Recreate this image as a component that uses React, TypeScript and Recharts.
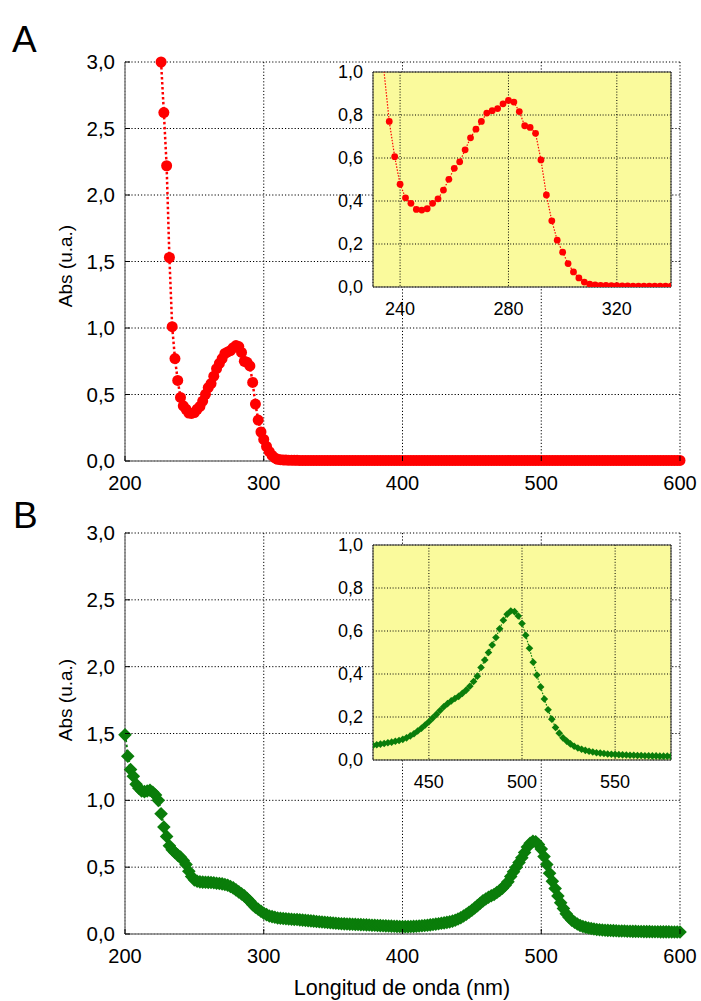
import React from 'react';
import { LineChart, Line, XAxis, YAxis, CartesianGrid, ReferenceArea } from 'recharts';

const FONT = '"Liberation Sans", Arial, Helvetica, sans-serif';

// Panel A: absorbance, one point every 2 nm starting at 226 nm
const startA = 226;
const absA = [
  3.0, 2.62, 2.22, 1.53, 1.01, 0.77, 0.606, 0.478, 0.415, 0.389,
  0.361, 0.358, 0.364, 0.389, 0.41, 0.451, 0.501, 0.552, 0.582, 0.638,
  0.694, 0.734, 0.77, 0.809, 0.82, 0.83, 0.852, 0.868, 0.86, 0.816,
  0.75, 0.742, 0.715, 0.591, 0.428, 0.308, 0.218, 0.162, 0.109, 0.07,
  0.042, 0.023, 0.013, 0.01, 0.008, 0.007, 0.006, 0.006, 0.005, 0.005,
  0.004, 0.004, 0.004, 0.004, 0.004, 0.004, 0.004, 0.004, 0.004, 0.004,
  0.004, 0.004, 0.004, 0.004, 0.004, 0.004, 0.004, 0.004, 0.004, 0.004,
  0.004, 0.004, 0.004, 0.004, 0.004, 0.004, 0.004, 0.004, 0.004, 0.004,
  0.004, 0.004, 0.004, 0.004, 0.004, 0.004, 0.004, 0.004, 0.004, 0.004,
  0.004, 0.004, 0.004, 0.004, 0.004, 0.004, 0.004, 0.004, 0.004, 0.004,
  0.004, 0.004, 0.004, 0.004, 0.004, 0.004, 0.004, 0.004, 0.004, 0.004,
  0.004, 0.004, 0.004, 0.004, 0.004, 0.004, 0.004, 0.004, 0.004, 0.004,
  0.004, 0.004, 0.004, 0.004, 0.004, 0.004, 0.004, 0.004, 0.004, 0.004,
  0.004, 0.004, 0.004, 0.004, 0.004, 0.004, 0.004, 0.004, 0.004, 0.004,
  0.004, 0.004, 0.004, 0.004, 0.004, 0.004, 0.004, 0.004, 0.004, 0.004,
  0.004, 0.004, 0.004, 0.004, 0.004, 0.004, 0.004, 0.004, 0.004, 0.004,
  0.004, 0.004, 0.004, 0.004, 0.004, 0.004, 0.004, 0.004, 0.004, 0.004,
  0.004, 0.004, 0.004, 0.004, 0.004, 0.004, 0.004, 0.004, 0.004, 0.004,
  0.004, 0.004, 0.004, 0.004, 0.004, 0.004, 0.004, 0.004,
];

// Panel B: absorbance, one point every 2 nm starting at 200 nm
const startB = 200;
const absB = [
  1.49, 1.33, 1.23, 1.18, 1.12, 1.09, 1.07, 1.065, 1.07, 1.075,
  1.06, 1.04, 1.0, 0.9, 0.8, 0.73, 0.66, 0.63, 0.61, 0.59,
  0.575, 0.55, 0.52, 0.47, 0.43, 0.405, 0.395, 0.39, 0.388, 0.387,
  0.386, 0.385, 0.383, 0.38, 0.378, 0.375, 0.37, 0.365, 0.355, 0.345,
  0.33, 0.315, 0.3, 0.285, 0.265, 0.245, 0.22, 0.2, 0.185, 0.17,
  0.155, 0.145, 0.135, 0.13, 0.125, 0.12, 0.118, 0.116, 0.114, 0.112,
  0.11, 0.109, 0.108, 0.106, 0.104, 0.102, 0.1, 0.098, 0.096, 0.094,
  0.092, 0.09, 0.088, 0.086, 0.084, 0.082, 0.08, 0.078, 0.077, 0.076,
  0.075, 0.074, 0.073, 0.072, 0.071, 0.07, 0.069, 0.068, 0.067, 0.066,
  0.065, 0.064, 0.063, 0.062, 0.061, 0.06, 0.059, 0.058, 0.057, 0.056,
  0.055, 0.055, 0.055, 0.056, 0.057, 0.058, 0.06, 0.062, 0.064, 0.066,
  0.068, 0.071, 0.074, 0.077, 0.08, 0.083, 0.087, 0.091, 0.096, 0.103,
  0.112, 0.122, 0.135, 0.148, 0.163, 0.178, 0.195, 0.212, 0.23, 0.248,
  0.262, 0.275, 0.286, 0.296, 0.31, 0.325, 0.343, 0.365, 0.39, 0.43,
  0.465, 0.5, 0.535, 0.57, 0.61, 0.65, 0.678, 0.693, 0.69, 0.67,
  0.635, 0.58, 0.52, 0.455, 0.395, 0.34, 0.284, 0.234, 0.19, 0.151,
  0.125, 0.103, 0.088, 0.075, 0.064, 0.056, 0.05, 0.045, 0.041, 0.037,
  0.034, 0.032, 0.03, 0.028, 0.027, 0.026, 0.025, 0.024, 0.023, 0.022,
  0.022, 0.021, 0.021, 0.02, 0.02, 0.019, 0.019, 0.018, 0.018, 0.018,
  0.017, 0.017, 0.017, 0.016, 0.016, 0.016, 0.016, 0.015, 0.015, 0.015,
  0.015,
];

const mainXTicks = [200, 300, 400, 500, 600];
const mainYTicks = [0, 0.5, 1, 1.5, 2, 2.5, 3];
const insetYTicks = [0, 0.2, 0.4, 0.6, 0.8, 1];
const insetXTicksA = [240, 280, 320];
const insetXTicksB = [450, 500, 550];

const dataA = absA.map((abs, i) => ({ wl: startA + 2 * i, abs }));
const dataB = absB.map((abs, i) => ({ wl: startB + 2 * i, abs }));

const RED = '#ff0000';
const GREEN = '#0a7d0a';
const YELLOW = '#fafa9c';

const fmt = (v: number) => v.toFixed(1).replace('.', ',');

// page-wide plot columns
const PLOT_L = 125;
const PLOT_R = 680;
const INSET_L = 373;
const INSET_R = 671;

const circleDot = (r: number, color: string, maxY = Infinity) => (p: any) => {
  if (p.cx == null || p.payload.abs > maxY) return <g key={p.index} />;
  return <circle key={p.index} cx={p.cx} cy={p.cy} r={r} fill={color} />;
};

const diamondDot = (h: number, color: string) => (p: any) => {
  if (p.cx == null) return <g key={p.index} />;
  const { cx, cy } = p;
  return (
    <path
      key={p.index}
      d={`M${cx},${cy - h}L${cx + h},${cy}L${cx},${cy + h}L${cx - h},${cy}Z`}
      fill={color}
    />
  );
};

interface MainProps {
  data: { wl: number; abs: number }[];
  top: number;
  plotTop: number;
  plotBottom: number;
  height: number;
  color: string;
  dot: any;
}

function MainPanel({ data, top, plotTop, plotBottom, height, color, dot }: MainProps) {
  const pt = plotTop - top;
  const pb = plotBottom - top;
  const bottomTick = (p: any) => (
    <g>
      <line x1={p.x} x2={p.x} y1={pb} y2={pb - 5} stroke="#000" />
      <text x={p.x} y={pb + 28.5} textAnchor="middle" fontSize={20} fontFamily={FONT} fill="#000">
        {p.payload.value}
      </text>
    </g>
  );
  const leftTick = (p: any) => (
    <g>
      <line x1={PLOT_L} x2={PLOT_L + 5} y1={p.y} y2={p.y} stroke="#000" />
      <text x={PLOT_L - 10} y={p.y + 7} textAnchor="end" fontSize={20.5} fontFamily={FONT} fill="#000">
        {fmt(p.payload.value)}
      </text>
    </g>
  );
  const topTick = (p: any) => <line x1={p.x} x2={p.x} y1={pt} y2={pt + 5} stroke="#000" />;
  const rightTick = (p: any) => <line x1={PLOT_R} x2={PLOT_R - 5} y1={p.y} y2={p.y} stroke="#000" />;

  return (
    <div style={{ position: 'absolute', left: 0, top }}>
      <LineChart width={701} height={height} data={data} margin={{ top: pt, right: 701 - PLOT_R, bottom: 0, left: 0 }}>
        <CartesianGrid stroke="#000" strokeDasharray="1.2 2" />
        <XAxis
          type="number"
          dataKey="wl"
          domain={[200, 600]}
          ticks={mainXTicks}
          interval={0}
          height={height - pb}
          tickSize={0}
          tickLine={false}
          axisLine={{ stroke: '#808080', strokeWidth: 1.5 }}
          tick={bottomTick}
        />
        <XAxis
          xAxisId="top"
          orientation="top"
          type="number"
          domain={[200, 600]}
          ticks={mainXTicks}
          interval={0}
          height={0}
          tickSize={0}
          tickLine={false}
          axisLine={{ stroke: '#000' }}
          tick={topTick}
        />
        <YAxis
          type="number"
          domain={[0, 3]}
          ticks={mainYTicks}
          interval={0}
          width={PLOT_L}
          tickSize={0}
          tickLine={false}
          axisLine={{ stroke: '#808080', strokeWidth: 1.5 }}
          tick={leftTick}
        />
        <YAxis
          yAxisId="right"
          orientation="right"
          type="number"
          domain={[0, 3]}
          ticks={mainYTicks}
          interval={0}
          width={0}
          tickSize={0}
          tickLine={false}
          axisLine={{ stroke: '#000' }}
          tick={rightTick}
        />
        <Line
          type="linear"
          dataKey="abs"
          stroke={color}
          strokeWidth={2.5}
          strokeDasharray="2.5 2.5"
          dot={dot}
          isAnimationActive={false}
        />
      </LineChart>
    </div>
  );
}

interface InsetProps {
  data: { wl: number; abs: number }[];
  top: number;
  plotTop: number;
  plotBottom: number;
  domain: [number, number];
  ticks: number[];
  color: string;
  dot: any;
}

function InsetPanel({ data, top, plotTop, plotBottom, domain, ticks, color, dot }: InsetProps) {
  const left = 300;
  const width = 380;
  const height = plotBottom - top + 36;
  const pt = plotTop - top;
  const pb = plotBottom - top;
  const il = INSET_L - left;
  const xTick = (p: any) => (
    <text x={p.x} y={pb + 28} textAnchor="middle" fontSize={18} fontFamily={FONT} fill="#000">
      {p.payload.value}
    </text>
  );
  const yTick = (p: any) => (
    <text x={il - 10} y={p.y + 6.4} textAnchor="end" fontSize={18} fontFamily={FONT} fill="#000">
      {fmt(p.payload.value)}
    </text>
  );
  return (
    <div style={{ position: 'absolute', left, top }}>
      <LineChart
        width={width}
        height={height}
        data={data}
        margin={{ top: pt, right: left + width - INSET_R, bottom: 0, left: 0 }}
      >
        <CartesianGrid stroke="#000" strokeDasharray="1 1.8" fill={YELLOW} fillOpacity={1} />
        <XAxis
          type="number"
          dataKey="wl"
          domain={domain}
          allowDataOverflow
          ticks={ticks}
          interval={0}
          height={height - pb}
          tickSize={0}
          tickLine={false}
          axisLine={false}
          tick={xTick}
        />
        <YAxis
          type="number"
          domain={[0, 1]}
          allowDataOverflow
          ticks={insetYTicks}
          interval={0}
          width={il}
          tickSize={0}
          tickLine={false}
          axisLine={false}
          tick={yTick}
        />
        <Line
          type="linear"
          dataKey="abs"
          stroke={color}
          strokeWidth={1.2}
          strokeDasharray="1.5 1.5"
          dot={dot}
          isAnimationActive={false}
        />
        <ReferenceArea
          x1={domain[0]}
          x2={domain[1]}
          y1={0}
          y2={1}
          fill="none"
          stroke="#333"
          strokeWidth={1}
          ifOverflow="visible"
        />
      </LineChart>
    </div>
  );
}

export default function App() {
  return (
    <div
      style={{
        position: 'absolute',
        left: 0,
        top: 0,
        width: 701,
        height: 1001,
        background: '#fff',
        overflow: 'hidden',
        fontFamily: FONT,
      }}
    >
      <MainPanel
        data={dataA}
        top={0}
        plotTop={62}
        plotBottom={461}
        height={500}
        color={RED}
        dot={circleDot(5.5, RED)}
      />
      <InsetPanel
        data={dataA.filter((d) => d.wl >= 228 && d.wl <= 342)}
        top={62}
        plotTop={72}
        plotBottom={287}
        domain={[230, 340]}
        ticks={insetXTicksA}
        color={RED}
        dot={circleDot(3.4, RED, 1)}
      />
      <MainPanel
        data={dataB}
        top={500}
        plotTop={533}
        plotBottom={934}
        height={500}
        color={GREEN}
        dot={diamondDot(6.8, GREEN)}
      />
      <InsetPanel
        data={dataB}
        top={533}
        plotTop={545}
        plotBottom={760}
        domain={[420, 580]}
        ticks={insetXTicksB}
        color={GREEN}
        dot={diamondDot(3.8, GREEN)}
      />
      <svg
        width={701}
        height={1001}
        style={{ position: 'absolute', left: 0, top: 0, pointerEvents: 'none' }}
      >
        <text x={12} y={52} fontSize={37} fontFamily={FONT} fill="#000">A</text>
        <text x={13} y={528} fontSize={37} fontFamily={FONT} fill="#000">B</text>
        <text
          transform="translate(72,266) rotate(-90)"
          textAnchor="middle"
          fontSize={19}
          fontFamily={FONT}
          fill="#000"
        >
          Abs (u.a.)
        </text>
        <text
          transform="translate(72,700) rotate(-90)"
          textAnchor="middle"
          fontSize={19}
          fontFamily={FONT}
          fill="#000"
        >
          Abs (u.a.)
        </text>
        <text x={402} y={995} textAnchor="middle" fontSize={21.5} fontFamily={FONT} fill="#000">
          Longitud de onda (nm)
        </text>
      </svg>
    </div>
  );
}
